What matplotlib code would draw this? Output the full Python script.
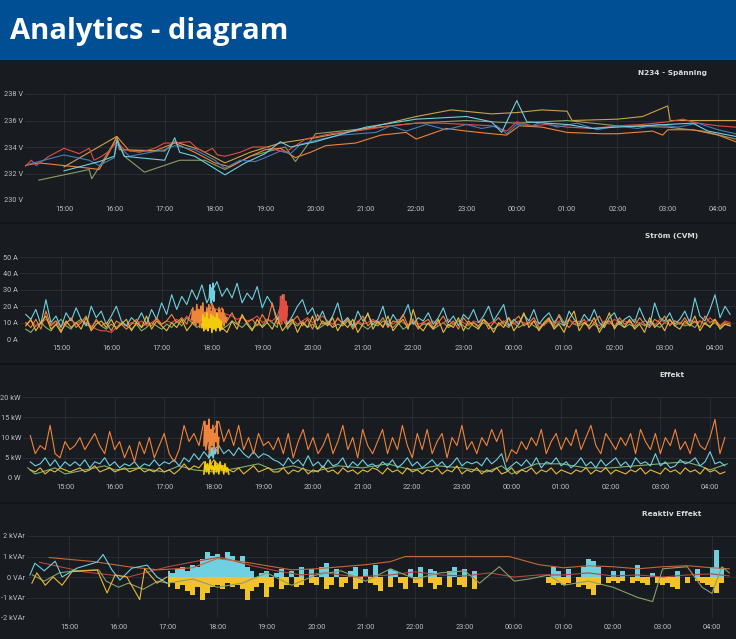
import numpy as np
import matplotlib
matplotlib.use('Agg')
import matplotlib.pyplot as plt
from matplotlib.patches import Rectangle
from matplotlib.ticker import FixedLocator, FuncFormatter

# ---- data (hours since midnight, after midnight = 24+) ----
hour_ticks = list(range(15, 29))

volt_ticks = [230, 232, 234, 236, 238]
volt_labels = ['230 V', '232 V', '234 V', '236 V', '238 V']
amp_ticks = [0, 10, 20, 30, 40, 50]
amp_labels = ['0 A', '10 A', '20 A', '30 A', '40 A', '50 A']
kw_ticks = [0, 5, 10, 15, 20]
kw_labels = ['0 W', '5 kW', '10 kW', '15 kW', '20 kW']
kvar_ticks = [-2, -1, 0, 1, 2]
kvar_labels = ['-2 kVAr', '-1 kVAr', '0 VAr', '1 kVAr', '2 kVAr']

# voltage
volt_red_t = [14.22, 14.35, 14.45, 14.7, 15.0, 15.3, 15.5, 15.6, 15.75, 15.9, 16.05, 16.2, 16.5, 16.8,
              17.0, 17.2, 17.5, 17.65, 17.8, 17.95, 18.05, 18.2, 18.5, 18.75, 19.0, 19.4, 19.8, 20.3,
              20.8, 21.5, 22.0, 22.5, 23.0, 23.5, 23.8, 24.0, 24.3, 24.6, 25.0, 25.5, 26.0, 26.5,
              27.0, 27.3, 27.6, 28.0, 28.35]
volt_red_v = [232.5, 233.0, 232.6, 233.3, 233.9, 233.5, 233.9, 233.0, 233.3, 233.7, 234.4, 233.8, 233.6,
              233.9, 234.3, 234.3, 234.4, 233.9, 233.6, 233.9, 233.4, 233.3, 233.6, 234.0, 234.0, 233.6,
              234.6, 235.0, 235.2, 235.6, 235.8, 235.8, 235.7, 235.6, 235.2, 235.9, 235.6, 235.7, 235.5,
              235.4, 235.6, 235.7, 235.9, 236.1, 235.8, 235.6, 235.5]
volt_orange_t = [14.22, 14.5, 15.0, 15.5, 15.7, 15.9, 16.05, 16.3, 16.8, 17.2, 17.6, 18.0, 18.3, 18.7,
                 19.0, 19.3, 19.6, 19.9, 20.2, 20.8, 21.3, 21.8, 22.0, 22.3, 22.6, 23.0, 23.5, 23.8,
                 24.05, 24.5, 25.0, 25.7, 26.0, 26.7, 26.9, 27.0, 27.5, 28.0, 28.35]
volt_orange_v = [232.6, 232.8, 232.6, 232.4, 232.3, 233.6, 234.8, 233.7, 233.7, 234.3, 233.6, 232.8,
                 232.5, 233.3, 233.8, 233.9, 233.2, 233.6, 234.1, 234.3, 234.9, 235.1, 234.6, 235.0,
                 235.4, 235.2, 235.0, 234.9, 235.6, 235.5, 235.1, 235.0, 235.0, 235.2, 234.9, 235.3,
                 235.3, 234.9, 234.4]
volt_yellow_t = [15.0, 16.05, 16.1, 17.0, 17.2, 17.7, 18.0, 18.2, 18.7, 19.3, 20.0, 21.0, 22.0, 22.7,
                 23.5, 24.0, 24.5, 25.0, 25.1, 26.0, 26.5, 27.0, 27.05, 28.35]
volt_yellow_v = [232.5, 234.8, 233.8, 233.7, 234.4, 233.8, 233.2, 232.8, 233.6, 234.3, 234.7, 235.4,
                 236.3, 236.8, 236.5, 236.6, 236.8, 236.7, 236.0, 236.1, 236.3, 237.1, 236.0, 236.0]
volt_cyan_t = [15.0, 15.5, 15.7, 16.0, 16.05, 16.2, 17.0, 17.2, 17.3, 17.6, 18.2, 18.6, 19.0, 19.3,
               19.5, 20.0, 21.0, 22.0, 23.0, 23.5, 23.7, 24.0, 24.2, 25.0, 25.5, 26.0, 27.0, 27.5,
               27.8, 28.35]
volt_cyan_v = [232.2, 232.7, 232.9, 233.3, 234.5, 233.3, 233.0, 234.7, 233.6, 233.3, 231.9, 232.8, 233.5,
               234.4, 234.0, 234.4, 235.5, 236.1, 236.3, 235.9, 235.1, 237.5, 235.9, 235.7, 235.4, 235.5,
               235.7, 235.8, 235.2, 234.8]
volt_blue_t = [14.3, 14.6, 15.0, 15.5, 15.7, 16.0, 16.05, 16.3, 17.0, 17.2, 17.6, 18.0, 18.2, 18.5,
               18.8, 19.0, 19.3, 19.5, 19.7, 20.0, 20.5, 21.2, 21.5, 21.8, 22.2, 22.6, 23.0, 23.3,
               23.6, 23.8, 24.0, 24.3, 24.5, 24.8, 25.2, 25.6, 26.0, 26.4, 26.8, 27.2, 27.6, 28.0, 28.35]
volt_blue_v = [232.7, 233.0, 233.4, 233.0, 232.6, 233.2, 234.2, 233.3, 233.8, 234.1, 233.8, 233.0, 232.4,
               233.0, 232.9, 233.2, 233.7, 233.5, 234.2, 234.5, 234.9, 235.1, 235.6, 235.2, 235.7, 235.3,
               235.7, 235.4, 235.6, 235.0, 235.7, 235.6, 235.9, 235.5, 235.8, 235.3, 235.6, 235.4, 235.7,
               235.5, 235.8, 235.3, 235.0]
volt_green_t = [14.5, 15.5, 15.55, 15.7, 16.05, 16.2, 16.6, 17.3, 17.8, 18.2, 18.7, 19.4, 19.6, 20.0,
                21.0, 22.0, 23.0, 23.5, 24.0, 25.0, 26.0, 27.0, 27.7, 28.35]
volt_green_v = [231.5, 232.3, 231.6, 232.5, 234.7, 233.3, 232.1, 233.0, 233.0, 232.3, 233.3, 234.0,
                232.9, 235.0, 235.4, 235.8, 236.0, 235.9, 235.8, 236.0, 235.6, 235.5, 235.2, 234.6]

# current and power share a 6-minute time base
t_grid = np.round(np.arange(14.3, 28.31, 0.1), 1)

cur_cyan = [15, 12, 18, 9, 24, 10, 14, 7, 16, 11,
            19, 12, 8, 20, 13, 17, 9, 14, 20, 11,
            8, 13, 10, 16, 9, 18, 12, 22, 15, 27,
            18, 26, 21, 30, 24, 33, 22, 29, 35, 26,
            31, 25, 34, 22, 28, 24, 32, 19, 26, 21,
            12, 16, 9, 14, 20, 24, 15, 19, 11, 17,
            9, 14, 22, 10, 13, 8, 17, 11, 15, 9,
            12, 20, 8, 15, 10, 14, 21, 9, 13, 11,
            16, 9, 13, 19, 10, 14, 8, 15, 12, 18,
            10, 14, 20, 11, 16, 21, 8, 12, 9, 15,
            11, 18, 9, 13, 16, 10, 14, 8, 17, 12,
            9, 15, 11, 18, 10, 7, 13, 16, 9, 12,
            14, 10, 19, 12, 8, 22, 13, 11, 16, 9,
            12, 17, 10, 25, 14, 11, 18, 27, 13, 20,
            15]
cur_orange = [10, 7, 12, 6, 17, 8, 11, 5, 9, 13,
              7, 10, 14, 6, 12, 8, 10, 5, 11, 9,
              6, 9, 12, 7, 10, 8, 13, 9, 11, 15,
              10, 13, 9, 18, 12, 20, 11, 22, 14, 19,
              11, 16, 9, 14, 10, 12, 8, 15, 10, 22,
              9, 13, 7, 11, 14, 8, 12, 6, 15, 9,
              11, 7, 13, 9, 12, 6, 10, 14, 8, 11,
              9, 13, 7, 11, 10, 15, 8, 12, 6, 10,
              12, 7, 10, 14, 8, 11, 6, 13, 9, 10,
              8, 12, 6, 10, 13, 9, 7, 11, 14, 8,
              10, 13, 7, 9, 12, 8, 15, 10, 7, 11,
              9, 12, 6, 10, 14, 8, 11, 7, 13, 9,
              11, 8, 13, 9, 7, 12, 10, 14, 8, 11,
              9, 13, 8, 11, 7, 14, 10, 12, 8, 10,
              9]
cur_yellow = [8, 12, 5, 10, 14, 6, 9, 4, 11, 7,
              10, 6, 13, 5, 9, 11, 7, 12, 6, 9,
              12, 5, 10, 7, 14, 6, 11, 8, 5, 10,
              7, 12, 5, 9, 15, 8, 17, 6, 13, 7,
              4, 11, 6, 15, 9, 5, 12, 7, 10, 6,
              13, 5, 9, 12, 4, 10, 7, 14, 6, 11,
              8, 13, 5, 10, 7, 12, 4, 9, 16, 6,
              11, 7, 14, 5, 9, 12, 6, 18, 8, 5,
              10, 6, 12, 4, 9, 7, 13, 5, 11, 8,
              6, 12, 9, 4, 10, 7, 13, 5, 9, 16,
              7, 11, 5, 10, 13, 6, 9, 4, 12, 17,
              5, 10, 8, 13, 4, 9, 16, 6, 11, 7,
              12, 6, 9, 4, 13, 7, 10, 5, 12, 8,
              6, 11, 8, 14, 5, 10, 7, 12, 6, 9,
              8]
cur_green = [6, 4, 8, 10, 7, 5, 9, 12, 8, 6,
             10, 12, 9, 7, 11, 8, 6, 9, 7, 10,
             8, 6, 9, 5, 7, 10, 8, 6, 9, 7,
             11, 8, 13, 10, 7, 9, 12, 8, 10, 6,
             8, 11, 9, 7, 10, 6, 9, 8, 12, 10,
             7, 27, 6, 10, 8, 11, 7, 9, 6, 8,
             10, 7, 9, 8, 11, 7, 10, 8, 6, 9,
             8, 11, 9, 7, 10, 6, 8, 10, 7, 9,
             9, 6, 8, 10, 7, 9, 11, 8, 6, 10,
             7, 10, 8, 6, 9, 11, 8, 10, 7, 9,
             10, 8, 6, 9, 11, 7, 10, 8, 12, 9,
             8, 10, 7, 9, 6, 10, 11, 8, 9, 7,
             9, 7, 10, 8, 11, 9, 7, 10, 12, 8,
             10, 8, 9, 7, 11, 9, 8, 10, 7, 9,
             8]
cur_red = [9, 11, 8, 10, 12, 9, 11, 8, 10, 12,
           9, 11, 10, 8, 6, 5, 5, 4, 7, 9,
           8, 10, 9, 11, 8, 10, 12, 9, 11, 10,
           12, 10, 14, 11, 13, 15, 17, 19, 18, 16,
           15, 14, 12, 13, 11, 12, 14, 10, 12, 11,
           14, 24, 10, 12, 9, 11, 13, 10, 12, 14,
           11, 9, 12, 10, 13, 8, 11, 9, 10, 12,
           10, 8, 11, 9, 12, 10, 8, 11, 9, 10,
           9, 11, 8, 10, 12, 9, 11, 10, 8, 11,
           10, 12, 9, 11, 8, 10, 13, 9, 11, 10,
           9, 11, 10, 8, 12, 9, 11, 10, 12, 9,
           11, 9, 12, 10, 8, 11, 9, 12, 10, 11,
           10, 12, 9, 11, 10, 8, 12, 10, 9, 11,
           10, 9, 12, 10, 11, 9, 13, 10, 8, 11,
           10]
# short periods with dense samples
cur_orange_burst = [12, 19, 9, 17, 8, 21, 10, 18, 7, 20, 11, 22, 8, 16, 10, 19, 7, 21,
                    9, 17, 12, 20, 8, 18, 10, 15, 7, 19, 11, 16, 9, 18, 8, 14, 10, 13]
cur_yellow_burst = [7, 15, 5, 13, 6, 16, 5, 12, 7, 15, 4, 14, 6, 13, 5, 16, 7, 12, 5, 11, 6]
cur_cyan_burst = [26, 33, 22, 31, 24, 34, 23, 29]
cur_red_burst = [11, 26, 9, 24, 12, 27, 10, 23, 13, 20]

kw_orange = [10.5, 6, 8, 7, 13, 6, 5, 9, 7, 8,
             10, 7, 9, 11, 8, 6, 11.5, 7, 9, 5,
             8, 4, 9, 6, 10, 5, 8, 11, 6, 4,
             7, 13, 9, 11, 8, 14, 7, 12, 14, 9,
             12, 8, 13, 7, 10, 6, 11, 8, 9, 7,
             10, 6, 11, 5, 9, 12, 7, 10, 6, 8,
             11, 6, 9, 13, 7, 10, 5, 12, 8, 6,
             9, 12, 6, 10, 7, 13, 8, 5, 11, 7,
             12, 6, 9, 11, 5, 10, 8, 13, 7, 9,
             6, 10, 8, 12, 9, 12, 4, 7, 6, 9,
             7, 10, 8, 12, 6, 9, 11, 7, 10, 8,
             12, 7, 10, 13, 8, 6, 11, 9, 7, 10,
             8, 11, 6, 12, 9, 7, 11, 6, 10, 8,
             12, 7, 9, 6, 11, 8, 7, 10, 14.5, 6,
             10]
kw_cyan = [4, 3, 3.5, 5, 3, 4.5, 2.5, 4, 3, 4,
           3, 4.5, 2.5, 4, 3.5, 5, 3, 4, 2.5, 3.5,
           3, 4, 2.5, 3.5, 3, 4.5, 3, 4, 3.5, 4.5,
           3, 5, 4, 6, 4.5, 6.5, 5, 7, 8, 6,
           7, 5.5, 7.5, 6, 5, 6.5, 5, 6, 5.5, 4.5,
           4, 3, 5, 3.5, 4.5, 3, 5.5, 3, 4, 2.5,
           4.5, 3, 3.5, 5, 2.5, 4, 3, 4.5, 3, 3.5,
           2.5, 4, 3, 4.5, 2.5, 3.5, 5, 3, 4, 2.5,
           3.5, 4.5, 3, 4, 2.5, 3.5, 5, 3, 4, 3.5,
           4, 3, 5, 3.5, 4.5, 6, 2, 3, 4, 3,
           4.5, 3, 5, 2.5, 4, 3.5, 5, 3, 4, 2.5,
           3.5, 5, 3, 4, 2.5, 4.5, 3, 4, 5, 3,
           4, 2.5, 5, 3.5, 4, 3, 6, 3, 4, 2.5,
           3, 4.5, 3.5, 4, 5, 3, 4, 6.5, 3.5, 4,
           3]
kw_yellow = [2, 1.5, 2.5, 1, 2, 1.5, 2.5, 2, 1.5, 2,
             2.5, 1.5, 2, 3, 1.5, 2, 2.5, 1.5, 2, 2.5,
             1.5, 2, 2.5, 1.5, 2, 1.5, 2.5, 1.5, 2, 1,
             2, 3.5, 2, 3, 2.5, 4, 2.5, 4.5, 3, 3,
             2, 1.5, 2.5, 1, 2, 3, 1.5, 2, 2.5, 1.5,
             1.5, 2.5, 1, 2, 1.5, 2.5, 1, 2, 1.5, 3,
             1.5, 2, 1, 2.5, 1.5, 2, 1, 2, 1.5, 2.5,
             2, 1, 2.5, 1.5, 2, 1, 2.5, 1.5, 2, 1,
             2, 1.5, 2.5, 1, 2, 1.5, 3, 1, 2, 1.5,
             2.5, 1, 2, 1.5, 2.5, 1, 1.5, 2.5, 1, 2,
             1.5, 2.5, 1, 2, 1.5, 2.5, 1, 2, 1.5, 1,
             2, 1.5, 2.5, 1, 2, 1.5, 2.5, 1, 2, 1.5,
             1, 2, 1.5, 2.5, 1, 2, 1.5, 1, 2.5, 1.5,
             2, 1, 2.5, 1.5, 2, 1, 2.5, 1.5, 2, 1,
             1.5]
kw_green_t = [14.25, 14.4, 14.8, 15.0, 15.4, 15.8, 16.0, 16.5, 17.0, 17.3, 17.6, 18.0, 18.5, 18.9,
              19.2, 19.6, 20.0, 20.5, 21.0, 21.5, 22.0, 22.5, 23.0, 23.5, 23.8, 24.0, 24.5, 25.0,
              25.5, 26.0, 26.5, 27.0, 27.5, 27.8, 28.0, 28.35]
kw_green_v = [2.5, 1.0, 2.5, 1.0, 2.0, 3.0, 2.0, 2.5, 1.5, 3.0, 2.0, 1.5, 2.5, 3.5, 2.0, 3.0, 1.5,
              3.0, 2.5, 3.5, 2.0, 3.0, 2.5, 1.5, 3.0, 1.0, 3.5, 3.5, 2.5, 2.5, 3.0, 3.5, 4.0, 3.0,
              2.0, 3.5]
kw_orange_burst = [8, 14, 7, 13, 9, 14.5, 6, 12, 8, 13, 7, 11, 9, 14, 6, 10]
kw_yellow_burst = [1, 4, 1.5, 3.5, 1, 4.5, 2, 3, 1, 4, 1.5, 3.5, 1, 4, 2, 3, 1, 3.5, 1.5, 2.5, 1]
kw_cyan_burst = [5, 8, 5.5, 7.5, 5, 8, 6, 7]

# reactive power
kvar_cyan_t = [14.21, 14.31, 14.5, 14.72, 14.86, 15.16, 15.57, 15.69, 15.87, 16.03, 16.27, 16.58,
               16.78, 16.98]
kvar_cyan_v = [0.1, 0.67, 0.3, 0.77, 0.0, 0.43, 0.73, 1.1, 0.34, -0.15, 0.43, 0.58, 0.0, -0.3]
kvar_yellow_t = [14.25, 14.35, 14.52, 14.68, 14.86, 15.06, 15.57, 15.77, 15.93, 16.17, 16.43, 16.53,
                 16.78, 16.98]
kvar_yellow_v = [-0.3, 0.2, -0.4, 0.0, -0.4, 0.26, 0.34, -0.78, 0.1, 0.0, -1.1, 0.4, -0.3, 0.0]
kvar_green_t = [14.26, 14.5, 14.8, 15.1, 15.6, 15.75, 16.0, 16.2, 16.5, 16.8, 17.0, 17.5, 18.0, 18.5,
                19.0, 19.5, 20.0, 20.5, 21.0, 21.5, 22.0, 22.5, 23.0, 23.3, 23.7, 24.0, 24.3, 24.7,
                25.0, 25.5, 26.0, 26.5, 26.8, 27.0, 27.5, 27.8, 28.0, 28.2, 28.35]
kvar_green_v = [0.1, -0.2, 0.2, 0.3, 0.35, -0.2, -0.5, -0.3, -0.6, -0.2, -0.3, -0.1, -0.5, -0.3, 0.2,
                -0.4, 0.1, 0.3, -0.2, 0.4, -0.1, 0.2, 0.3, -0.3, 0.5, -0.2, -0.1, 0.1, -0.4, -0.2,
                -0.5, -1.0, -1.2, 0.4, 0.5, -0.5, -0.8, 0.5, 0.2]
kvar_orange_t = [14.6, 15.5, 16.2, 16.8, 17.5, 18.0, 18.5, 19.0, 19.5, 20.0, 20.5, 21.0, 21.5, 21.8,
                 23.0, 23.9, 24.5, 25.0, 25.5, 26.0, 26.5, 27.0, 27.5, 28.0, 28.35]
kvar_orange_v = [0.95, 0.75, 0.5, 0.35, 0.45, 0.9, 0.75, 0.55, 0.35, 0.4, 0.5, 0.6, 0.75, 1.0, 1.0,
                 1.0, 0.6, 0.45, 0.55, 0.5, 0.4, 0.5, 0.55, 0.45, 0.4]
kvar_red_t = [14.4, 15.3, 16.2, 17.0, 17.65, 18.05, 18.7, 19.2, 19.7, 20.2, 20.8, 21.5, 22.0, 22.5,
              23.0, 23.5, 24.0, 24.5, 25.0, 25.5, 26.0, 26.5, 27.0, 27.5, 28.0, 28.35]
kvar_red_v = [0.72, 0.25, 0.0, 0.5, 0.8, 0.97, 0.55, 0.3, 0.1, 0.2, 0.0, 0.1, 0.25, 0.1, 0.05, 0.2,
              0.0, 0.1, 0.1, 0.2, 0.05, 0.1, 0.0, 0.1, 0.15, 0.05]
# dense period from 17:00 on (0 = no reading in that slot)
t_kvar = np.round(np.arange(17.0, 28.31, 0.1), 1)
kvar_cyan_dense = [0.3, 0.2, 0.4, 0.5, 0.3, 0.6, 0.5, 0.9, 1.2, 1.0,
                   1.1, 0.9, 1.2, 1.0, 0.8, 1.0, 0.5, 0.3, 0, 0.2,
                   0.3, 0, 0.2, 0.4, 0, 0.3, 0, 0.5, 0, 0.4,
                   0, 0.5, 0.7, 0, 0.4, 0, 0, 0.3, 0.5, 0,
                   0.4, 0, 0.6, 0, 0, 0.4, 0.3, 0, 0, 0.4,
                   0, 0.5, 0, 0.4, 0.3, 0, 0, 0.3, 0.5, 0,
                   0.4, 0, 0.3, 0, 0, 0, 0, 0, 0, 0,
                   0, 0, 0, 0, 0, 0, 0, 0, 0.5, 0.3,
                   0, 0.4, 0, 0, 0.5, 0.9, 0.8, 0.5, 0, 0,
                   0.3, 0, 0.3, 0, 0, 0.6, 0, 0, 0.2, 0,
                   0, 0, 0, 0.3, 0, 0, 0, 0.4, 0, 0,
                   0.5, 1.3, 0.4, 0]
kvar_yellow_dense = [-0.5, -0.3, -0.6, -0.4, -0.7, -0.9, -0.5, -1.1, -0.8, -0.5,
                     -0.4, -0.6, -0.3, -0.5, -0.4, -0.6, -1.1, -0.7, -0.5, -0.3,
                     -1.0, -0.5, 0, -0.6, -0.4, 0, -0.5, -0.4, 0, -0.3,
                     -0.4, 0, -0.6, -0.4, 0, -0.5, -0.3, 0, -0.6, -0.3,
                     0, -0.3, -0.4, -0.7, 0, -0.5, 0, -0.3, -0.6, 0,
                     -0.3, -0.5, 0, -0.3, -0.6, -0.4, 0, -0.5, 0, -0.4,
                     -0.5, 0, -0.6, 0, 0, 0, 0, 0, 0, 0,
                     0, 0, 0, 0, 0, 0, 0, -0.3, -0.4, -0.3,
                     -0.4, -0.3, 0, -0.5, -0.4, -0.6, -0.9, -0.4, 0, -0.3,
                     -0.2, -0.3, -0.2, 0, -0.3, -0.2, -0.3, -0.4, 0, -0.3,
                     -0.4, -0.3, -0.5, -0.6, 0, -0.3, 0, -0.2, -0.3, -0.4,
                     -0.5, -0.8, -0.3, 0]

# ---- style ----
RED, ORANGE, YELLOW = '#E24D42', '#EF843C', '#EAB839'
CYAN, GREEN, BLUE = '#6ED0E0', '#7EB26D', '#447EBC'
MUSTARD = '#CCA24A'
PAGE_BG, PANEL_BG, GRID = '#111217', '#181b1f', '#2c3036'
TICK_COLOR = '#b9c0c8'
W, H = 736, 639

fig = plt.figure(figsize=(W / 100, H / 100), dpi=100, facecolor=PAGE_BG)


def rect(x0, y0, x1, y1, color):
    fig.patches.append(Rectangle((x0 / W, 1 - y1 / H), (x1 - x0) / W, (y1 - y0) / H,
                                 transform=fig.transFigure, color=color, zorder=-10))


rect(0, 0, W, 59, '#004E94')
fig.text(10 / W, 1 - 32 / H, 'Analytics - diagram', color='white', fontsize=21,
         fontweight='bold', va='center', ha='left', family='Open Sans')

panels = [(61, 221), (224, 362), (365, 501), (504, 639)]
for top, bot in panels:
    rect(0, top, W, bot, PANEL_BG)


def make_axes(left, top, bottom, x15, x04, ticks, labels, title, title_y):
    hr_per_px = 13.0 / (x04 - x15)
    h0 = 15 + (left - x15) * hr_per_px
    h1 = 15 + (W - x15) * hr_per_px
    ax = fig.add_axes([left / W, 1 - bottom / H, (W - left) / W, (bottom - top) / H])
    ax.set_facecolor('none')
    ax.set_xlim(h0, h1)
    ax.set_ylim(ticks[0], ticks[-1])
    ax.xaxis.set_major_locator(FixedLocator(hour_ticks))
    ax.xaxis.set_major_formatter(FuncFormatter(lambda h, p: '%02d:00' % (int(round(h)) % 24)))
    ax.yaxis.set_major_locator(FixedLocator(ticks))
    ax.set_yticklabels(labels)
    ax.tick_params(length=0, labelsize=5.3, labelcolor=TICK_COLOR)
    for lab in ax.get_xticklabels() + ax.get_yticklabels():
        lab.set_family('Roboto')
    ax.tick_params(axis='x', pad=4.5)
    ax.tick_params(axis='y', pad=1.5)
    ax.grid(True, color=GRID, linewidth=0.6)
    ax.set_axisbelow(True)
    for s in ax.spines.values():
        s.set_visible(False)
    fig.text(672 / W, 1 - title_y / H, title, color='#d8d9da', fontsize=5.3,
             fontweight='bold', ha='center', va='center')
    return ax


lw = 0.8

# Spänning
ax1 = make_axes(25, 94, 200, 64, 718, volt_ticks, volt_labels, 'N234 - Spänning', 73)
ax1.plot(volt_green_t, volt_green_v, color='#8A9F68', lw=lw)
ax1.plot(volt_orange_t, volt_orange_v, color=ORANGE, lw=lw)
ax1.plot(volt_yellow_t, volt_yellow_v, color=MUSTARD, lw=lw)
ax1.plot(volt_red_t, volt_red_v, color=RED, lw=lw)
ax1.plot(volt_blue_t, volt_blue_v, color=BLUE, lw=lw)
ax1.plot(volt_cyan_t, volt_cyan_v, color=CYAN, lw=lw)

# Ström
ax2 = make_axes(20, 257, 339, 61, 715, amp_ticks, amp_labels, 'Ström (CVM)', 236)
ax2.plot(t_grid, cur_green, color=GREEN, lw=lw)
ax2.plot(t_grid, cur_red, color=RED, lw=lw)
ax2.plot(t_grid, cur_cyan, color=CYAN, lw=lw)
ax2.plot(t_grid, cur_orange, color=ORANGE, lw=lw)
ax2.plot(t_grid, cur_yellow, color=YELLOW, lw=lw)
ax2.plot(np.linspace(17.95, 18.05, len(cur_cyan_burst)), cur_cyan_burst, color=CYAN, lw=1.2)
ax2.plot(np.linspace(17.6, 18.3, len(cur_orange_burst)), cur_orange_burst, color=ORANGE, lw=1.2)
ax2.plot(np.linspace(17.8, 18.2, len(cur_yellow_burst)), cur_yellow_burst, color='#F2CC0C', lw=1.2)
ax2.plot(np.linspace(19.35, 19.5, len(cur_red_burst)), cur_red_burst, color=RED, lw=1.2)

# Effekt
ax3 = make_axes(23, 397, 478, 65, 710, kw_ticks, kw_labels, 'Effekt', 375)
ax3.plot(kw_green_t, kw_green_v, color=GREEN, lw=lw)
ax3.plot(t_grid, kw_yellow, color=YELLOW, lw=lw)
ax3.plot(t_grid, kw_cyan, color=CYAN, lw=lw)
ax3.plot(t_grid, kw_orange, color=ORANGE, lw=lw)
ax3.plot(np.linspace(17.9, 18.05, len(kw_cyan_burst)), kw_cyan_burst, color=CYAN, lw=1.2)
ax3.plot(np.linspace(17.8, 18.1, len(kw_orange_burst)), kw_orange_burst, color=ORANGE, lw=1.2)
ax3.plot(np.linspace(17.8, 18.3, len(kw_yellow_burst)), kw_yellow_burst, color='#F2CC0C', lw=1.2)

# Reaktiv Effekt
ax4 = make_axes(27, 536, 618, 69, 712, kvar_ticks, kvar_labels, 'Reaktiv Effekt', 514)
ax4.plot(kvar_red_t, kvar_red_v, color='#B8463C', lw=lw)
ax4.plot(kvar_orange_t, kvar_orange_v, color='#C4683A', lw=lw)
ax4.plot(kvar_green_t, kvar_green_v, color='#8A9F68', lw=lw)
ax4.plot(kvar_cyan_t, kvar_cyan_v, color=CYAN, lw=lw)
ax4.plot(kvar_yellow_t, kvar_yellow_v, color=YELLOW, lw=lw)
ax4.fill_between(t_kvar, 0, kvar_cyan_dense, step='mid', color=CYAN, lw=0)
ax4.fill_between(t_kvar, 0, kvar_yellow_dense, step='mid', color='#F2C12E', lw=0)

fig.savefig('out.png', dpi=100, facecolor=PAGE_BG)
